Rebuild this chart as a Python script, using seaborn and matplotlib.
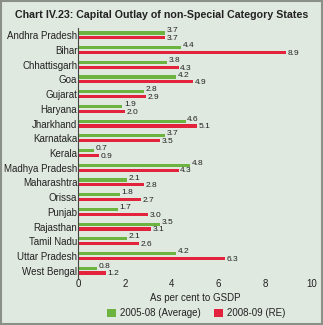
import matplotlib
matplotlib.use("Agg")
import matplotlib.pyplot as plt
import seaborn as sns
import pandas as pd
from matplotlib.patches import Rectangle

states = ["Andhra Pradesh", "Bihar", "Chhattisgarh", "Goa", "Gujarat", "Haryana",
          "Jharkhand", "Karnataka", "Kerala", "Madhya Pradesh", "Maharashtra",
          "Orissa", "Punjab", "Rajasthan", "Tamil Nadu", "Uttar Pradesh", "West Bengal"]
avg_2005_08 = [3.7, 4.4, 3.8, 4.2, 2.8, 1.9, 4.6, 3.7, 0.7, 4.8, 2.1, 1.8, 1.7, 3.5, 2.1, 4.2, 0.8]
re_2008_09 = [3.7, 8.9, 4.3, 4.9, 2.9, 2.0, 5.1, 3.5, 0.9, 4.3, 2.8, 2.7, 3.0, 3.1, 2.6, 6.3, 1.2]
series_names = ["2005-08 (Average)", "2008-09 (RE)"]
xticks = [0, 2, 4, 6, 8, 10]

df = pd.DataFrame({
    "State": states * 2,
    "Value": avg_2005_08 + re_2008_09,
    "Series": [series_names[0]] * len(states) + [series_names[1]] * len(states),
})

sns.set_theme(style="white")
plt.rcParams['font.family'] = ['Liberation Sans', 'DejaVu Sans']

bg = "#e0e9df"
fig = plt.figure(figsize=(3.23, 3.25), dpi=100, facecolor=bg)
ax = fig.add_axes([78/323, 1 - 278/325, (312-78)/323, (278-28)/325])
ax.set_facecolor(bg)

palette = {series_names[0]: "#6cb33f", series_names[1]: "#e3223c"}
sns.barplot(data=df, y="State", x="Value", hue="Series", order=states,
            hue_order=series_names, palette=palette, orient="h", width=0.66,
            gap=0.35, ax=ax, saturation=1, legend=True, linewidth=0)

offsets = [1.4, -0.6]
for cont, dy in zip(ax.containers, offsets):
    anns = ax.bar_label(cont, fmt="%.1f", padding=1, fontsize=6, color="#222222")
    for a in anns:
        a.xyann = (1.2, dy)

ax.set_xlim(0, 10)
ax.set_xticks(xticks)
ax.set_xticklabels([str(t) for t in xticks], fontsize=7)
ax.set_ylim(len(states) - 0.5, -0.5)
ax.tick_params(axis="y", labelsize=7, pad=0.5, length=0, colors="#222222")
ax.tick_params(axis="x", pad=0.5, length=0, colors="#222222")
ax.set_ylabel("")
ax.set_xlabel("As per cent to GSDP", fontsize=7, labelpad=3, color="#222222")
for s in ["top", "right", "bottom"]:
    ax.spines[s].set_visible(False)
ax.spines["left"].set_color("#444444")
ax.spines["left"].set_linewidth(0.8)

handles, labels = ax.get_legend_handles_labels()
ax.get_legend().remove()
fig.legend(handles, labels, loc="center", bbox_to_anchor=(0.607, 1 - 313/325),
           ncol=2, frameon=False, fontsize=7, handlelength=0.9, handleheight=0.9,
           handletextpad=0.4, columnspacing=1.4, labelcolor="#222222")

fig.text(0.5, 1 - 15/325, "Chart IV.23: Capital Outlay of non-Special Category States",
         ha="center", va="center", fontsize=7.7, fontweight="bold", color="#222222")

fig.patches.append(Rectangle((0.004, 0.004), 0.992, 0.992, transform=fig.transFigure,
                             fill=False, edgecolor="#8a9088", linewidth=1.5))

fig.savefig("out.png", dpi=100, facecolor=bg)
